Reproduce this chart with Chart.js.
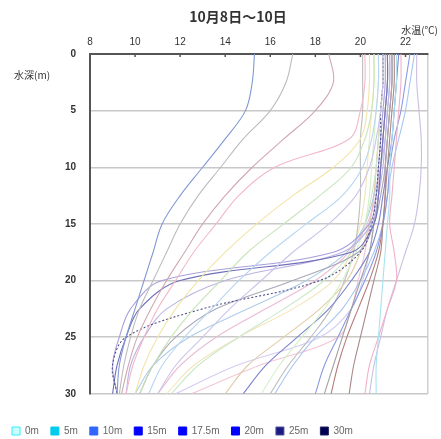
<!DOCTYPE html>
<html>
<head>
<meta charset="utf-8">
<script src="https://cdn.jsdelivr.net/npm/chart.js@4/dist/chart.umd.min.js"></script>
<style>
  html, body { margin: 0; padding: 0; background: #fff; overflow: hidden; }
  canvas { display: block; }
</style>
</head>
<body>
<canvas id="profileChart" width="441" height="446" style="width:441px;height:446px"></canvas>
<script>
// Chart texts
const titleText = '10月8日～10日';
const xTitle = '水温(℃)';
const yTitle = '水深(m)';

// Depth of each reading (m)
const depths = [0, 2.5, 5, 7.5, 10, 12.5, 15, 17.5, 20, 22.5, 25, 27.5, 30];

// Tick labels
const tempTicks = [8, 10, 12, 14, 16, 18, 20, 22];
const depthTicks = [0, 5, 10, 15, 20, 25, 30];

// Legend entries
const legendLabels = ['0m', '5m', '10m', '15m', '17.5m', '20m', '25m', '30m'];
const legendFill = ['#ccffff', '#00ccee', '#3366ff', '#0000ff', '#0000ff', '#0000ff', '#1a1a80', '#000050'];
const legendStroke = ['#33eeff', '#00ccee', '#3366ff', '#0000ff', '#0000ff', '#0000ff', '#5050a0', '#202060'];

// Temperature profiles (°C at each depth)
const c1 = [15.3, 15.2, 14.9, 14.0, 13.0, 12.0, 11.2, 10.8, 10.4, 10.0, 9.6, 9.3, 9.2];
const c2 = [17.0, 16.7, 16.0, 14.8, 13.8, 12.8, 12.0, 11.4, 10.8, 10.2, 9.8, 9.5, 9.3];
const c3 = [18.6, 18.8, 18.0, 16.6, 15.2, 14.0, 13.0, 12.2, 11.4, 10.7, 10.1, 9.7, 9.4];
const c4 = [20.2, 20.2, 20.0, 19.5, 16.2, 14.6, 13.6, 12.6, 11.8, 11.0, 10.4, 9.9, 9.6];
const c5 = [20.4, 20.4, 20.3, 20.0, 18.8, 17.0, 15.4, 14.0, 12.8, 11.8, 11.0, 10.4, 10.0];
const c6 = [20.6, 20.6, 20.5, 20.2, 19.6, 18.2, 16.6, 15.0, 13.8, 12.6, 11.6, 10.8, 10.2];
const c7 = [20.8, 20.8, 20.7, 20.5, 20.1, 19.2, 17.6, 16.0, 14.6, 13.4, 12.2, 11.2, 10.6];
const c8 = [21.0, 21.0, 20.9, 20.7, 20.4, 19.8, 18.6, 17.0, 15.6, 14.2, 13.0, 11.8, 11.0];
const t1 = [21.0, 21.0, 20.9, 20.9, 20.8, 20.7, 20.5, 20.0, 18.2, 13.0, 9.6, 9.0, 9.2];
const t2 = [21.2, 21.2, 21.1, 21.0, 20.9, 20.8, 20.6, 19.6, 12.0, 10.2, 9.6, 9.2, 9.0];
const t3 = [21.1, 21.1, 21.0, 20.9, 20.8, 20.7, 20.4, 18.8, 11.2, 9.8, 9.3, 9.0, 9.2];
const t4 = [21.3, 21.3, 21.2, 21.1, 21.0, 20.8, 20.5, 19.2, 14.0, 11.4, 10.4, 9.8, 9.6];
const t5 = [21.4, 21.4, 21.3, 21.2, 21.1, 20.9, 20.6, 19.9, 17.0, 13.6, 11.8, 10.8, 10.2];
const t6 = [21.2, 21.2, 21.1, 21.0, 20.9, 20.7, 20.3, 19.5, 18.0, 15.8, 13.6, 12.0, 11.0];
const t7 = [21.0, 21.0, 20.9, 20.8, 20.7, 20.5, 20.2, 19.6, 18.4, 16.6, 14.6, 12.8, 11.6];
const t8 = [21.3, 21.3, 21.2, 21.1, 20.9, 20.6, 20.2, 19.4, 17.6, 15.0, 12.4, 10.8, 10.0];
const w1 = [21.5, 21.5, 21.4, 21.3, 21.2, 21.1, 21.0, 20.9, 20.6, 20.3, 20.0, 19.7, 19.5];
const w2 = [21.2, 21.2, 21.1, 21.0, 20.9, 20.8, 20.6, 20.4, 20.0, 19.6, 19.2, 18.8, 18.4];
const w3 = [21.6, 21.6, 21.5, 21.4, 21.3, 21.3, 21.2, 21.1, 21.0, 20.9, 20.8, 20.7, 20.7];
const w4 = [21.8, 21.8, 21.7, 21.6, 21.5, 21.4, 21.3, 21.5, 21.6, 21.2, 20.8, 20.4, 20.2];
const w5 = [22.5, 22.5, 22.6, 22.7, 22.7, 22.6, 22.4, 22.0, 21.6, 21.2, 20.9, 20.6, 20.4];
const w6 = [22.2, 22.0, 21.8, 21.5, 21.3, 21.2, 21.0, 20.7, 20.2, 19.6, 19.0, 18.4, 18.0];
const w7 = [22.4, 22.2, 22.0, 21.7, 21.4, 21.2, 21.0, 20.6, 20.0, 19.2, 18.0, 17.0, 16.2];
const w8 = [20.8, 20.8, 20.7, 20.6, 20.5, 20.4, 20.2, 19.8, 19.2, 18.4, 17.4, 16.4, 15.6];
const w9 = [21.0, 21.0, 20.9, 20.8, 20.7, 20.6, 20.4, 20.0, 19.4, 18.2, 16.6, 15.0, 14.0];
const w10 = [21.4, 21.4, 21.3, 21.2, 21.1, 21.1, 21.0, 20.8, 20.4, 19.9, 19.4, 19.0, 18.7];
const w11 = [21.7, 21.6, 21.5, 21.4, 21.2, 21.0, 20.8, 20.4, 19.6, 18.6, 17.2, 15.8, 14.8];
const w12 = [20.1, 20.1, 20.1, 20.0, 20.0, 20.0, 19.9, 19.7, 19.3, 18.7, 17.8, 16.8, 16.0];
const d1 = [21.0, 21.0, 20.9, 20.8, 20.7, 20.6, 20.4, 20.2, 19.9, 19.6, 19.0, 15.5, 12.5];
const d2 = [21.2, 21.2, 21.1, 21.0, 20.9, 20.8, 20.6, 20.4, 20.1, 19.6, 18.2, 14.5, 11.8];
const d3 = [20.6, 20.6, 20.5, 20.4, 20.3, 20.2, 20.0, 19.6, 18.8, 17.0, 14.6, 12.6, 11.4];

const profiles = [c1, c2, c3, c4, c5, c6, c7, c8, t1, t2, t3, t4, t5, t6, t7, t8,
  w1, w2, w3, w4, w5, w6, w7, w8, w9, w10, w11, w12, d1, d2, d3];
const lineColors = ['#8098d4', '#bcbcbc', '#d0a8b0', '#f2b8c8', '#f2e4a8', '#c8e4b8', '#b8d6f2', '#ccc4ea',
  '#50508c', '#7070b8', '#a8a0dc', '#bcb4e2', '#a8a8b8', '#eabcd4', '#cce8cc', '#b0cce8',
  '#a88888', '#a0a0a0', '#a8e2f2', '#f2b0c6', '#ccbee2', '#8c9ae2', '#a8c6f2', '#d4f0c8',
  '#e2cca8', '#b87c7c', '#7c84cc', '#bcbcbc', '#f2c6d6', '#d4ccf2', '#f2e6b8'];

const datasets = profiles.map((p, i) => ({
  data: depths.map((d, j) => ({ x: p[j], y: d })),
  showLine: true,
  borderColor: lineColors[i],
  borderWidth: 1.1,
  borderDash: p === t1 ? [2, 2] : [],
  pointRadius: 0,
  tension: 0.35
}));

const labelsPlugin = {
  id: 'labelsPlugin',
  afterDraw(chart) {
    const { ctx, chartArea, scales } = chart;
    ctx.save();
    ctx.fillStyle = '#333';
    ctx.textAlign = 'center';
    ctx.textBaseline = 'middle';
    ctx.font = 'bold 14px "Noto Sans CJK JP"';
    ctx.fillText(titleText, 238, 17);
    ctx.font = '10px "Noto Sans CJK JP"';
    ctx.textAlign = 'right';
    ctx.fillText(xTitle, 438, 30);
    ctx.textAlign = 'left';
    ctx.fillText(yTitle, 14, 75);
    // small tick marks inside the top axis
    ctx.fillStyle = '#555';
    tempTicks.forEach(v => {
      const px = scales.x.getPixelForValue(v);
      ctx.fillRect(px - 0.75, chartArea.top, 1.5, 3);
    });
    ctx.restore();
  }
};

new Chart(document.getElementById('profileChart'), {
  type: 'scatter',
  data: { datasets: datasets },
  options: {
    responsive: false,
    animation: false,
    layout: { padding: { top: 34, right: 13, left: 0, bottom: 0 } },
    scales: {
      x: {
        position: 'top',
        min: 8,
        max: 23,
        afterFit(scale) { scale.height = 20; },
        afterBuildTicks(scale) { scale.ticks = tempTicks.concat([23]).map(v => ({ value: v })); },
        ticks: {
          padding: 6,
          color: '#333',
          font: { size: 10, family: 'Arial, "Liberation Sans"' },
          callback: v => (tempTicks.includes(v) ? String(v) : '')
        },
        grid: {
          drawTicks: false,
          lineWidth: 1.5,
          color: ctx => (ctx.tick && ctx.tick.value === 23 ? '#d0d0d0' : 'rgba(0,0,0,0)')
        },
        border: { display: true, color: '#555', width: 2 }
      },
      y: {
        reverse: true,
        min: 0,
        max: 30,
        afterFit(scale) { scale.width = 90; },
        afterBuildTicks(scale) { scale.ticks = depthTicks.map(v => ({ value: v })); },
        ticks: {
          padding: 14,
          color: '#333',
          font: { size: 10, weight: 'bold', family: 'Arial, "Liberation Sans"' }
        },
        grid: { drawTicks: false, color: '#c8c8c8', lineWidth: 1.5 },
        border: { display: true, color: '#555', width: 2 }
      }
    },
    plugins: {
      tooltip: { enabled: false },
      title: { display: false },
      legend: {
        display: true,
        position: 'bottom',
        align: 'start',
        onClick: null,
        title: { display: true, text: ' ', font: { size: 1 }, padding: { top: 0, bottom: 19 } },
        labels: {
          boxWidth: 8,
          boxHeight: 8,
          padding: 12,
          color: '#222',
          font: { size: 10, family: 'Arial, "Liberation Sans"' },
          generateLabels: () => legendLabels.map((t, i) => ({
            text: t,
            fillStyle: legendFill[i],
            strokeStyle: legendStroke[i],
            lineWidth: 1,
            hidden: false
          }))
        }
      }
    }
  },
  plugins: [labelsPlugin]
});
</script>
</body>
</html>
